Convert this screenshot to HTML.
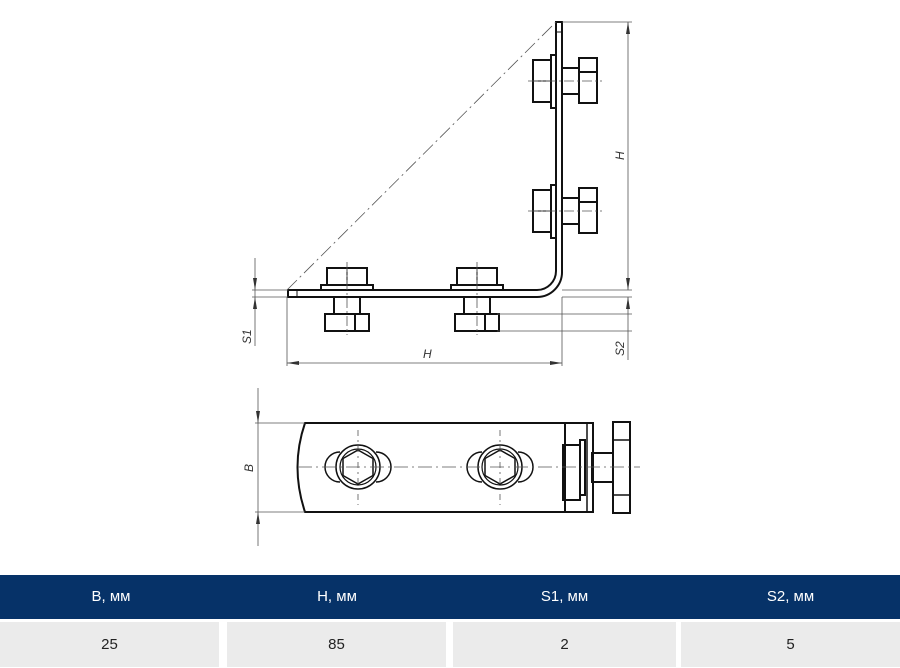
<!DOCTYPE html>
<html><head><meta charset="utf-8"><style>
body{margin:0;width:900px;height:668px;background:#fff;position:relative;overflow:hidden;font-family:"Liberation Sans",sans-serif}
svg{position:absolute;left:0;top:0}
.hd{position:absolute;top:575px;left:0;width:900px;height:44px;background:#063268}
.hd div,.rw div{position:absolute;text-align:center;font-size:15px}
.hd div{color:#fff;top:0;line-height:44px}
.rw div{background:#ebebeb;color:#222;top:622px;height:45px;line-height:45px}
</style></head><body>
<svg width="900" height="575" viewBox="0 0 900 575">
<g fill="none" stroke="#111" stroke-width="2">
<!-- L plate -->
<path d="M288 290 H537 A19 19 0 0 0 556 271 V22 H562 V271 A25 25 0 0 1 537 297 H288 Z" fill="#fff"/>
<line x1="556" y1="32" x2="562" y2="32" stroke-width="1"/>
<line x1="297" y1="290" x2="297" y2="297" stroke-width="1"/>
<!-- horizontal bolts -->
<g id="hb">
<rect x="327" y="268" width="40" height="17"/><line x1="347" y1="268" x2="347" y2="285" stroke-width="1"/>
<rect x="321" y="285" width="52" height="5"/>
<rect x="334" y="297" width="26" height="17"/>
<rect x="325" y="314" width="44" height="17"/><line x1="355" y1="314" x2="355" y2="331"/>
</g>
<use href="#hb" x="130"/>
<!-- vertical bolts -->
<g id="vb">
<rect x="533" y="60" width="18" height="42"/><line x1="533" y1="81" x2="551" y2="81" stroke-width="1"/>
<rect x="551" y="55" width="5" height="53"/>
<rect x="562" y="68" width="17" height="26"/>
<rect x="579" y="58" width="18" height="45"/><line x1="579" y1="72" x2="597" y2="72"/>
</g>
<use href="#vb" y="130"/>
<!-- bottom view -->
<path d="M305 423 H565 V512 H305 Q290 467 305 423 Z"/>
<rect x="565" y="423" width="28" height="89"/>
<line x1="587" y1="423" x2="587" y2="512" stroke-width="1.5"/>
<rect x="563" y="445" width="17" height="55"/>
<rect x="580" y="440" width="5" height="55"/>
<rect x="592" y="453" width="21" height="29"/>
<rect x="613" y="422" width="17" height="91"/>
<line x1="613" y1="440" x2="630" y2="440" stroke-width="1.5"/><line x1="613" y1="495" x2="630" y2="495" stroke-width="1.5"/>
<g id="bc">
<path d="M340 452 A15 15 0 0 0 340 482 M376 452 A15 15 0 0 1 376 482" stroke-width="1.5"/>
<circle cx="358" cy="467" r="22" fill="#fff" stroke-width="1.5"/>
<circle cx="358" cy="467" r="18" stroke-width="1.2"/>
<polygon points="358,450 373,458.5 373,475.5 358,484 343,475.5 343,458.5" stroke-width="1.5"/>
</g>
<use href="#bc" x="142"/>
</g>
<g fill="none" stroke="#555" stroke-width="0.8">
<line x1="287" y1="290" x2="556" y2="22" stroke-dasharray="14 4 2 4"/>
<line x1="347" y1="262" x2="347" y2="335" stroke-dasharray="10 3 2 3"/>
<line x1="477" y1="262" x2="477" y2="335" stroke-dasharray="10 3 2 3"/>
<line x1="528" y1="81" x2="602" y2="81" stroke-dasharray="10 3 2 3"/>
<line x1="528" y1="211" x2="602" y2="211" stroke-dasharray="10 3 2 3"/>
<line x1="298" y1="467" x2="640" y2="467" stroke-dasharray="14 4 2 4"/>
<line x1="358" y1="430" x2="358" y2="505" stroke-dasharray="6 4 2 4"/>
<line x1="500" y1="430" x2="500" y2="505" stroke-dasharray="6 4 2 4"/>
<!-- dims -->
<line x1="562" y1="22" x2="632" y2="22"/><line x1="562" y1="290" x2="632" y2="290"/>
<line x1="628" y1="22" x2="628" y2="290"/>
<line x1="562" y1="297" x2="632" y2="297"/><line x1="497" y1="314" x2="632" y2="314"/><line x1="497" y1="331" x2="632" y2="331"/>
<line x1="628" y1="297" x2="628" y2="360"/>
<line x1="287" y1="297" x2="287" y2="366"/><line x1="562" y1="297" x2="562" y2="366"/>
<line x1="287" y1="363" x2="562" y2="363"/>
<line x1="252" y1="290" x2="288" y2="290"/><line x1="252" y1="297" x2="288" y2="297"/>
<line x1="255" y1="258" x2="255" y2="346"/>
<line x1="255" y1="423" x2="305" y2="423"/><line x1="255" y1="512" x2="305" y2="512"/>
<line x1="258" y1="388" x2="258" y2="546"/>
</g>
<g fill="#333">
<path d="M287 363 l12 -2 v4z M562 363 l-12 -2 v4z"/>
<path d="M628 22 l-2 12 h4z M628 290 l-2 -12 h4z M628 297 l-2 12 h4z"/>
<path d="M255 290 l-2 -12 h4z M255 297 l-2 12 h4z"/>
<path d="M258 423 l-2 -12 h4z M258 512 l-2 12 h4z"/>
</g>
<g font-family="Liberation Sans" font-style="italic" font-size="12" fill="#333">
<text x="423" y="358">H</text>
<text transform="translate(624 160) rotate(-90)">H</text>
<text transform="translate(624 356) rotate(-90)">S2</text>
<text transform="translate(251 344) rotate(-90)">S1</text>
<text transform="translate(253 472) rotate(-90)">B</text>
</g>
</svg>
<div class="hd">
<div style="left:0;width:222px">B, мм</div>
<div style="left:227px;width:220px">H, мм</div>
<div style="left:453px;width:223px">S1, мм</div>
<div style="left:681px;width:219px">S2, мм</div>
</div>
<div class="rw">
<div style="left:0;width:219px">25</div>
<div style="left:227px;width:219px">85</div>
<div style="left:453px;width:223px">2</div>
<div style="left:681px;width:219px">5</div>
</div>
</body></html>
